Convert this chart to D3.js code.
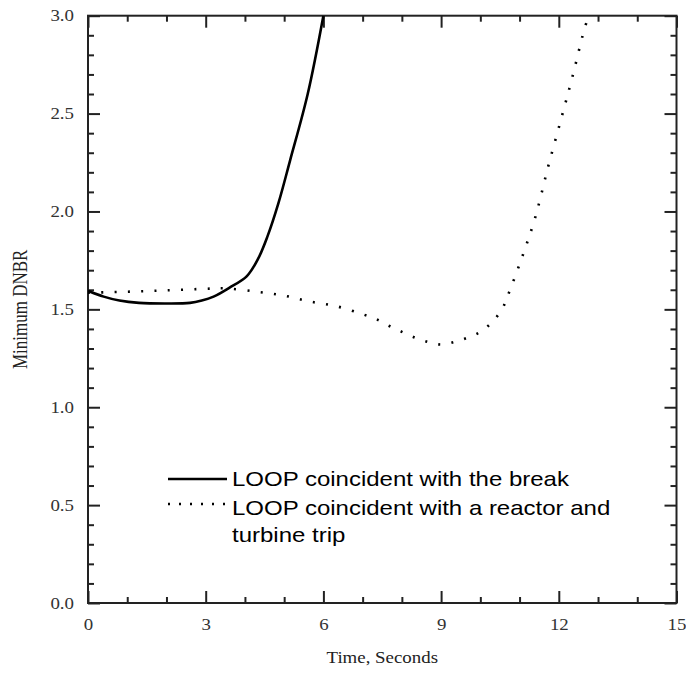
<!DOCTYPE html>
<html>
<head>
<meta charset="utf-8">
<script src="https://cdn.jsdelivr.net/npm/d3@7"></script>
<style>
  html, body { margin: 0; padding: 0; background: #fff; }
  svg { display: block; }
</style>
</head>
<body>
<div id="chart"></div>
<script>
// values
const breakTime = [0, 0.4, 0.8, 1.3, 2.0, 2.6, 2.9, 3.2, 3.6, 4.05, 4.34, 4.57, 4.85, 5.15, 5.6, 6.0];
const breakDnbr = [1.595, 1.565, 1.545, 1.533, 1.53, 1.533, 1.545, 1.565, 1.61, 1.67, 1.76, 1.87, 2.04, 2.26, 2.60, 3.0];

const tripTime = [0, 1, 2, 3, 3.5, 4.3, 5, 5.66, 6.35, 7.0, 7.35, 7.68, 8.0, 8.34, 8.67, 9.0, 9.34, 9.67, 10.0, 10.3, 10.55, 10.7, 11.07, 11.4, 11.73, 12.07, 12.35, 12.68, 12.78];
const tripDnbr = [1.585, 1.59, 1.597, 1.605, 1.607, 1.59, 1.57, 1.54, 1.515, 1.475, 1.45, 1.415, 1.385, 1.355, 1.333, 1.32, 1.333, 1.355, 1.385, 1.435, 1.50, 1.57, 1.77, 1.97, 2.23, 2.48, 2.69, 2.95, 3.0];

const xMajor = [0, 3, 6, 9, 12, 15];
const yMajor = [0, 0.5, 1.0, 1.5, 2.0, 2.5, 3.0];
const legendLabels = [
  ["LOOP coincident with the break"],
  ["LOOP coincident with a reactor and", "turbine trip"]
];

const W = 686, H = 673;
const margin = {top: 15.7, right: 9.5, left: 88};
const plotW = W - margin.left - margin.right;
const plotH = 603 - margin.top;
const stretch = 1.18;   // the reference text is a bit wide
const serif = "'Liberation Serif', 'DejaVu Serif', serif";

const x = d3.scaleLinear().domain([0, 15]).range([0, plotW]);
const y = d3.scaleLinear().domain([0, 3]).range([plotH, 0]);

const svg = d3.select("#chart").append("svg")
    .attr("width", W)
    .attr("height", H);

const g = svg.append("g")
    .attr("transform", `translate(${margin.left},${margin.top})`);

g.append("clipPath").attr("id", "clip")
  .append("rect").attr("width", plotW).attr("height", plotH);

// ticks, all pointing inward, on all four sides
const xMinor = d3.range(0, 16, 1).filter(v => v % 3 !== 0);
const yMinor = d3.range(0, 31, 1).map(v => v / 10).filter((v, i) => i % 5 !== 0);

function tickAxis(axis, tr) {
  const a = g.append("g").attr("transform", tr).call(axis);
  a.select(".domain").remove();
  a.selectAll("line").attr("stroke", "#222").attr("stroke-width", 2);
  a.selectAll("text")
    .attr("font-family", serif)
    .attr("font-size", 16)
    .attr("fill", "#333")
    .attr("transform", `scale(${stretch},1)`);
  return a;
}

tickAxis(d3.axisBottom(x).tickValues(xMajor).tickSize(-12).tickPadding(16).tickFormat(d3.format("d")), `translate(0,${plotH})`);
tickAxis(d3.axisBottom(x).tickValues(xMinor).tickSize(-6).tickFormat(""), `translate(0,${plotH})`);
tickAxis(d3.axisTop(x).tickValues(xMajor).tickSize(-12).tickFormat(""), "translate(0,0)");
tickAxis(d3.axisTop(x).tickValues(xMinor).tickSize(-6).tickFormat(""), "translate(0,0)");

tickAxis(d3.axisLeft(y).tickValues(yMajor).tickSize(-12).tickPadding(14).tickFormat(d3.format(".1f")), "translate(0,0)")
  .selectAll("text").attr("x", -14 / stretch);
tickAxis(d3.axisLeft(y).tickValues(yMinor).tickSize(-6).tickFormat(""), "translate(0,0)");
tickAxis(d3.axisRight(y).tickValues(yMajor).tickSize(-12).tickFormat(""), `translate(${plotW},0)`);
tickAxis(d3.axisRight(y).tickValues(yMinor).tickSize(-6).tickFormat(""), `translate(${plotW},0)`);

// frame
g.append("rect")
    .attr("width", plotW)
    .attr("height", plotH)
    .attr("fill", "none")
    .attr("stroke", "#222")
    .attr("stroke-width", 2);

const line = d3.line()
    .x(d => x(d[0]))
    .y(d => y(d[1]))
    .curve(d3.curveCatmullRom);

const curves = g.append("g").attr("clip-path", "url(#clip)");

curves.append("path")
    .datum(d3.zip(breakTime, breakDnbr))
    .attr("d", line)
    .attr("fill", "none")
    .attr("stroke", "#000")
    .attr("stroke-width", 2.6);

curves.append("path")
    .datum(d3.zip(tripTime, tripDnbr))
    .attr("d", line)
    .attr("fill", "none")
    .attr("stroke", "#000")
    .attr("stroke-width", 2.6)
    .attr("stroke-dasharray", "2,11.3");

// axis titles
svg.append("text")
    .attr("transform", `translate(${margin.left + plotW / 2},663) scale(${stretch},1)`)
    .attr("text-anchor", "middle")
    .attr("font-family", serif)
    .attr("font-size", 16)
    .attr("fill", "#222")
    .text("Time, Seconds");

svg.append("text")
    .attr("transform", `translate(20,${margin.top + plotH / 2}) rotate(-90) scale(1,${stretch})`)
    .attr("text-anchor", "middle")
    .attr("dy", "0.35em")
    .attr("font-family", serif)
    .attr("font-size", 17)
    .attr("fill", "#222")
    .text("Minimum DNBR");

// legend
const legend = svg.append("g").attr("transform", "translate(168,486)");
const dashes = [null, "2,9"];
const lineDy = [-7, -11];
legendLabels.forEach((lines, i) => {
  const row = legend.append("g").attr("transform", `translate(0,${i * 29})`);
  row.append("line")
      .attr("x1", 0).attr("x2", 59)
      .attr("y1", lineDy[i]).attr("y2", lineDy[i])
      .attr("stroke", "#000")
      .attr("stroke-width", 2.5)
      .attr("stroke-dasharray", dashes[i]);
  lines.forEach((t, j) => {
    row.append("text")
        .attr("transform", `translate(64,${j * 27}) scale(1.2,1)`)
        .attr("font-family", "'Liberation Sans', Arial, sans-serif")
        .attr("font-size", 20)
        .attr("fill", "#000")
        .text(t);
  });
});
</script>
</body>
</html>
